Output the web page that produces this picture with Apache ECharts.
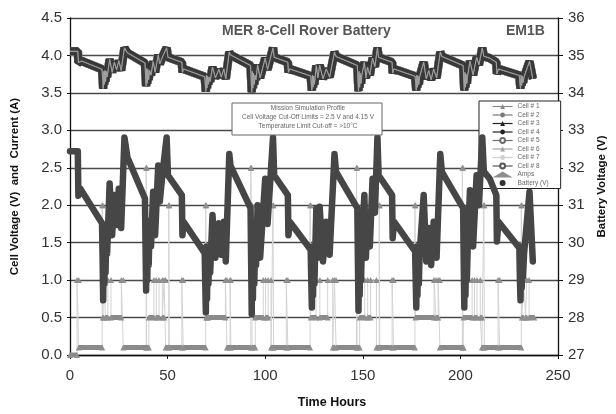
<!DOCTYPE html>
<html>
<head>
<meta charset="utf-8">
<script src="https://cdn.jsdelivr.net/npm/echarts@6/dist/echarts.min.js"></script>
<style>html,body{margin:0;padding:0;background:#fff}#c{width:616px;height:414px}</style>
</head>
<body>
<div id="c"></div>
<script>
// ---- data ----
const xTicks = [0, 50, 100, 150, 200, 250];
const cellNames = ['Cell # 1','Cell # 2','Cell # 3','Cell # 4','Cell # 5','Cell # 6','Cell # 7','Cell # 8'];

// battery voltage [hours, volts] (right axis)
const batteryPts = [[0,32.44],[4.0,32.44],[4.3,31.25],[5.2,31.45],[6.0,31.40],[16.4,30.52],[16.7,29.6],[17.0,28.46],[17.3,30.3],[17.6,28.9],[17.9,30.4],[18.2,29.2],[18.6,30.3],[19.0,29.7],[19.5,30.4],[20.3,31.58],[21.6,30.2],[22.7,31.27],[23.9,30.47],[25.0,31.44],[26.2,30.39],[27.9,32.81],[29.4,32.28],[38.4,31.18],
[38.7,29.9],[39.0,28.72],[39.3,30.6],[39.6,29.0],[39.9,30.5],[40.3,29.4],[40.8,30.4],[41.5,29.9],[42.6,31.36],[43.6,30.2],[45.2,32.06],[46.0,31.1],[47.5,31.9],[49.5,32.81],[50.2,31.80],[57.3,31.27],[57.6,30.20],[58.2,30.56],[69.0,29.72],
[69.3,28.9],[69.6,28.14],[69.9,29.9],[70.2,28.5],[70.5,29.8],[70.9,28.9],[71.3,29.7],[71.8,29.2],[73.0,30.74],[74.5,29.6],[76.3,30.52],[77.5,29.68],[78.8,30.56],[79.8,29.5],[81.6,32.37],[82.2,32.06],[92.5,30.92],
[92.8,29.5],[93.1,28.09],[93.4,30.3],[93.7,28.5],[94.0,30.1],[94.4,28.9],[94.8,29.9],[95.3,29.4],[96.1,31.0],[97.4,29.6],[100.0,31.71],[101.2,30.5],[104.0,32.81],[104.6,31.80],[111.6,31.27],[111.9,30.2],[112.6,30.56],[123.3,29.81],
[123.6,29.0],[123.9,28.27],[124.2,29.9],[124.5,28.6],[124.8,29.8],[125.2,28.9],[125.6,29.7],[126.2,30.92],[127.0,29.6],[127.9,30.96],[129.6,29.5],[131.3,30.56],[133.0,29.68],[135.5,32.37],[136.3,31.89],[147.2,30.92],
[147.5,29.5],[147.8,28.18],[148.1,30.3],[148.4,28.6],[148.7,30.1],[149.1,29.0],[149.5,29.9],[150.8,31.27],[151.6,29.6],[152.4,30.74],[153.6,29.9],[155.0,31.71],[156.2,30.8],[157.5,32.81],[158.1,31.80],[165.0,31.27],[165.3,30.12],[166.0,30.56],[176.8,29.77],
[177.1,29.0],[177.4,28.27],[177.7,29.9],[178.0,28.6],[178.3,29.8],[178.7,28.9],[179.1,29.7],[181.2,31.27],[182.5,29.5],[183.8,30.39],[185.0,29.4],[186.3,30.56],[187.8,29.6],[189.7,32.37],[190.5,31.89],[201.4,30.92],
[201.7,29.5],[202.0,28.27],[202.3,30.2],[202.6,28.6],[202.9,30.0],[203.3,29.0],[203.7,29.8],[204.9,31.40],[206.5,29.9],[208.3,31.80],[209.5,31.0],[211.2,32.81],[212.0,31.9],[215.0,31.71],[218.4,31.27],[218.7,30.03],[219.5,30.56],[230.2,29.86],
[230.5,29.0],[230.8,28.46],[231.1,29.9],[231.4,28.8],[231.7,29.8],[232.1,29.1],[232.6,29.7],[235.4,31.36],[237.1,29.5]];

// cell voltage [hours, volts] (left axis)
const cellPts = [[0,4.055],[4.0,4.055],[4.3,3.906],[5.2,3.931],[6.0,3.925],[16.4,3.815],[16.7,3.700],[17.0,3.558],[17.3,3.788],[17.6,3.613],[17.9,3.800],[18.2,3.650],[18.6,3.788],[19.0,3.713],[19.5,3.800],[20.3,3.948],[21.6,3.775],[22.7,3.909],[23.9,3.809],[25.0,3.930],[26.2,3.799],[27.9,4.101],[29.4,4.035],[38.4,3.898],
[38.7,3.738],[39.0,3.590],[39.3,3.825],[39.6,3.625],[39.9,3.813],[40.3,3.675],[40.8,3.800],[41.5,3.738],[42.6,3.920],[43.6,3.775],[45.2,4.008],[46.0,3.888],[47.5,3.988],[49.5,4.101],[50.2,3.975],[57.3,3.909],[57.6,3.775],[58.2,3.820],[69.0,3.715],
[69.3,3.613],[69.6,3.518],[69.9,3.738],[70.2,3.563],[70.5,3.725],[70.9,3.613],[71.3,3.713],[71.8,3.650],[73.0,3.843],[74.5,3.700],[76.3,3.815],[77.5,3.710],[78.8,3.820],[79.8,3.688],[81.6,4.046],[82.2,4.008],[92.5,3.865],
[92.8,3.688],[93.1,3.511],[93.4,3.788],[93.7,3.563],[94.0,3.763],[94.4,3.613],[94.8,3.738],[95.3,3.675],[96.1,3.875],[97.4,3.700],[100.0,3.964],[101.2,3.813],[104.0,4.101],[104.6,3.975],[111.6,3.909],[111.9,3.775],[112.6,3.820],[123.3,3.726],
[123.6,3.625],[123.9,3.534],[124.2,3.738],[124.5,3.575],[124.8,3.725],[125.2,3.613],[125.6,3.713],[126.2,3.865],[127.0,3.700],[127.9,3.870],[129.6,3.688],[131.3,3.820],[133.0,3.710],[135.5,4.046],[136.3,3.986],[147.2,3.865],
[147.5,3.688],[147.8,3.523],[148.1,3.788],[148.4,3.575],[148.7,3.763],[149.1,3.625],[149.5,3.738],[150.8,3.909],[151.6,3.700],[152.4,3.843],[153.6,3.738],[155.0,3.964],[156.2,3.850],[157.5,4.101],[158.1,3.975],[165.0,3.909],[165.3,3.765],[166.0,3.820],[176.8,3.721],
[177.1,3.625],[177.4,3.534],[177.7,3.738],[178.0,3.575],[178.3,3.725],[178.7,3.613],[179.1,3.713],[181.2,3.909],[182.5,3.688],[183.8,3.799],[185.0,3.675],[186.3,3.820],[187.8,3.700],[189.7,4.046],[190.5,3.986],[201.4,3.865],
[201.7,3.688],[202.0,3.534],[202.3,3.775],[202.6,3.575],[202.9,3.750],[203.3,3.625],[203.7,3.725],[204.9,3.925],[206.5,3.738],[208.3,3.975],[209.5,3.875],[211.2,4.101],[212.0,3.988],[215.0,3.964],[218.4,3.909],[218.7,3.754],[219.5,3.820],[230.2,3.733],
[230.5,3.625],[230.8,3.558],[231.1,3.738],[231.4,3.600],[231.7,3.725],[232.1,3.638],[232.6,3.713],[235.4,3.920],[237.1,3.688]];

// current profile [hours, amps] (left axis)
const ampSteps = [[0,0],[3.6,0],[3.6,1.0],[4.5,1.0],[4.5,0.1],[16.5,0.1],
[16.5,2.0],[16.8,2.0],[16.8,0.5],[17.3,0.5],[17.3,1.0],[18.2,1.0],[18.2,0.5],[19.4,0.5],[19.4,1.0],[21.0,1.0],[21.0,0.5],[26.3,0.5],[26.3,1.0],[27.3,1.0],[27.3,0.1],
[39.0,0.1],[39.0,2.5],[39.3,2.5],[39.3,0.1],[40.4,0.1],[40.4,0.5],[43.0,0.5],[43.0,1.0],[44.2,1.0],[44.2,0.5],[45.6,0.5],[45.6,1.0],[47.3,1.0],[47.3,0.5],[48.2,0.5],[48.2,1.0],[49.0,1.0],[49.0,0.1],
[50.6,0.1],[50.6,2.0],[50.9,2.0],[50.9,0.1],[57.3,0.1],[57.3,1.0],[58.0,1.0],[58.0,0.1],[69.5,0.1],
[69.5,2.0],[69.8,2.0],[69.8,0.5],[70.2,0.5],[70.2,1.0],[70.8,1.0],[70.8,0.5],[79.6,0.5],[79.6,1.0],[80.4,1.0],[80.4,0.1],[82.0,0.1],[82.0,1.0],[82.4,1.0],[82.4,0.1],
[92.6,0.1],[92.6,2.5],[92.9,2.5],[92.9,2.0],[93.3,2.0],[93.3,0.1],[94.9,0.1],[94.9,0.5],[99.0,0.5],[99.0,1.0],[100.2,1.0],[100.2,0.5],[101.5,0.5],[101.5,1.0],[103.0,1.0],[103.0,0.1],[104.0,0.1],[104.0,2.0],[104.3,2.0],[104.3,0.1],
[110.8,0.1],[110.8,1.0],[111.6,1.0],[111.6,0.1],[123.0,0.1],
[123.0,2.0],[123.3,2.0],[123.3,0.5],[126.0,0.5],[126.0,1.0],[128.0,1.0],[128.0,0.5],[132.0,0.5],[132.0,1.0],[134.6,1.0],[134.6,0.1],[135.5,0.1],[135.5,1.0],[136.3,1.0],[136.3,0.1],
[146.8,0.1],[146.8,2.5],[147.1,2.5],[147.1,0.1],[148.4,0.1],[148.4,0.5],[151.0,0.5],[151.0,1.0],[152.5,1.0],[152.5,0.5],[154.0,0.5],[154.0,1.0],[157.0,1.0],[157.0,0.1],[158.4,0.1],[158.4,2.0],[158.7,2.0],[158.7,0.1],
[165.0,0.1],[165.0,1.0],[165.8,1.0],[165.8,0.1],[176.7,0.1],
[176.7,2.0],[177.0,2.0],[177.0,0.5],[186.5,0.5],[186.5,1.0],[187.5,1.0],[187.5,0.5],[188.6,0.5],[188.6,1.0],[189.5,1.0],[189.5,0.1],
[201.0,0.1],[201.0,2.5],[201.3,2.5],[201.3,0.1],[201.6,0.1],[201.6,0.5],[206.0,0.5],[206.0,1.0],[207.2,1.0],[207.2,0.5],[208.5,0.5],[208.5,1.0],[210.2,1.0],[210.2,0.5],[211.0,0.5],[211.0,0.1],[212.0,0.1],[212.0,2.0],[212.3,2.0],[212.3,0.1],
[219.3,0.1],[219.3,1.0],[220.1,1.0],[220.1,0.1],[231.2,0.1],
[231.2,2.0],[231.5,2.0],[231.5,0.5],[232.4,0.5],[232.4,1.0],[233.4,1.0],[233.4,0.5],[234.0,0.5],[234.0,1.0],[235.2,1.0],[235.2,0.5],[237.8,0.5]];

// ---- build helpers ----
// horizontal low-current runs (dense markers in the original) drawn as thick bars
const ampBars = [];
for (let i = 0; i < ampSteps.length - 1; i++) {
  const a = ampSteps[i], b = ampSteps[i + 1];
  if (a[1] === b[1] && a[1] <= 0.5 && b[0] - a[0] > 0.2) {
    ampBars.push(a, b, [b[0], '-']);
  }
}

const FONT = 'Liberation Sans, Arial, Helvetica, sans-serif';
// styles per cell (same order as cellNames)
const cellStyles = [
  {color:'#8a8a8a', symbol:'triangle',    width:8.5},
  {color:'#7a7a7a', symbol:'circle',      width:8.5},
  {color:'#2e2e2e', symbol:'triangle',    width:7.5},
  {color:'#333333', symbol:'circle',      width:7},
  {color:'#6e6e6e', symbol:'emptyCircle', width:8.5},
  {color:'#8e8e8e', symbol:'triangle',    width:1.1},
  {color:'#a8a8a8', symbol:'none',        width:0.6},
  {color:'#3a3a3a', symbol:'emptyCircle', width:6}
];
// drawing order: wide grey cells underneath, dark cells above, light cells on top
const drawOrder = [0,1,4,2,3,7,5,6];

const series = [];
series.push({
  name:'Amps', type:'line', yAxisIndex:0, data: ampSteps, z:1,
  symbol:'triangle', symbolSize:6, showSymbol:true, showAllSymbol:true,
  itemStyle:{color:'#8e8e8e'}, lineStyle:{color:'#d3d3d3', width:1}
});
series.push({
  name:'ampBars', type:'line', yAxisIndex:0, data: ampBars, z:1,
  symbol:'none', connectNulls:false, lineStyle:{color:'#8a8a8a', width:5}
});
drawOrder.forEach(ci => {
  const s = cellStyles[ci];
  series.push({
    name: cellNames[ci], type:'line', yAxisIndex:0, data: cellPts, z:3,
    symbol: s.symbol, symbolSize:5, showSymbol:false,
    itemStyle:{color:s.color}, lineStyle:{color:s.color, width:s.width}
  });
});
series.push({
  name:'Battery (V)', type:'line', yAxisIndex:1, data: batteryPts, z:4,
  symbol:'circle', showSymbol:false,
  itemStyle:{color:'#444'}, lineStyle:{color:'#464646', width:6.5, join:'round', cap:'round'}
});

const legendColors = ['#8a8a8a','#7a7a7a','#222','#222','#6e6e6e','#a4a4a4','#d0d0d0','#555'];
const legendData = cellNames.map((n, i) => ({
  name:n,
  lineStyle:{width:1.2, color:legendColors[i]},
  itemStyle:{color:legendColors[i]}
}));
legendData.push({name:'Amps', icon:'triangle', itemStyle:{color:'#8e8e8e'}});
legendData.push({name:'Battery (V)', icon:'circle', itemStyle:{color:'#333'}});

const chart = echarts.init(document.getElementById('c'), null, {renderer:'canvas'});
chart.setOption({
  animation:false,
  backgroundColor:'#fff',
  grid:{left:70, right:54, top:18, bottom:56},
  xAxis:{
    type:'value', min:xTicks[0], max:xTicks[xTicks.length-1], interval:50,
    axisLine:{lineStyle:{color:'#111', width:1.3}},
    axisTick:{length:4, lineStyle:{color:'#111'}},
    axisLabel:{margin:13, fontSize:15, color:'#333', fontFamily:FONT},
    splitLine:{show:false},
    name:'Time Hours', nameLocation:'middle', nameGap:41,
    nameTextStyle:{fontWeight:'bold', fontSize:12.5, color:'#111', fontFamily:FONT, padding:[0,0,0,36]}
  },
  yAxis:[{
    type:'value', min:0, max:4.5, interval:0.5, position:'left',
    axisLine:{show:true, lineStyle:{color:'#111', width:1.3}},
    axisTick:{show:true, length:3, lineStyle:{color:'#111'}},
    axisLabel:{margin:8, fontSize:15, color:'#333', fontFamily:FONT, formatter:v => v.toFixed(1)},
    splitLine:{show:true, lineStyle:{color:'#4a4a4a', width:1.3}},
    name:'Cell Voltage (V)  and  Current (A)', nameLocation:'middle', nameGap:49, nameRotate:90,
    nameTextStyle:{fontWeight:'bold', fontSize:11.5, color:'#111', fontFamily:FONT}
  },{
    type:'value', min:27, max:36, interval:1, position:'right',
    axisLine:{show:true, lineStyle:{color:'#111', width:1.3}},
    axisTick:{show:true, length:5, lineStyle:{color:'#111'}},
    axisLabel:{margin:10, fontSize:15, color:'#333', fontFamily:FONT},
    splitLine:{show:false},
    name:'Battery Voltage (V)', nameLocation:'middle', nameGap:38, nameRotate:90,
    nameTextStyle:{fontWeight:'bold', fontSize:11.5, color:'#111', fontFamily:FONT}
  }],
  legend:{
    data: legendData, orient:'vertical', left:479, top:101,
    itemWidth:20, itemHeight:6, itemGap:1.5, selectedMode:false,
    backgroundColor:'#fff', borderColor:'#222', borderWidth:1, borderRadius:0,
    padding:[2, 12, 2, 13],
    textStyle:{fontSize:6.5, color:'#666', fontFamily:FONT, lineHeight:6}
  },
  graphic:[
    {type:'text', left:222, top:24, z:10, style:{text:'MER 8-Cell Rover Battery', font:'bold 14px ' + FONT, fill:'#555'}},
    {type:'text', left:506, top:24, z:10, style:{text:'EM1B', font:'bold 14px ' + FONT, fill:'#555'}},
    {type:'rect', z:10, shape:{x:232, y:103, width:150, height:32}, style:{fill:'#fff', stroke:'#666', lineWidth:1}},
    {type:'text', z:11, left:'center', top:105, style:{text:'Mission Simulation Profile', font:'6.5px ' + FONT, fill:'#666'}},
    {type:'text', z:11, left:'center', top:114, style:{text:'Cell Voltage Cut-Off Limits = 2.5 V and 4.15 V', font:'6.5px ' + FONT, fill:'#666'}},
    {type:'text', z:11, left:'center', top:122.5, style:{text:'Temperature Limit Cut-off = >10\u00B0C', font:'6.5px ' + FONT, fill:'#666'}}
  ],
  series: series
});
</script>
</body>
</html>
